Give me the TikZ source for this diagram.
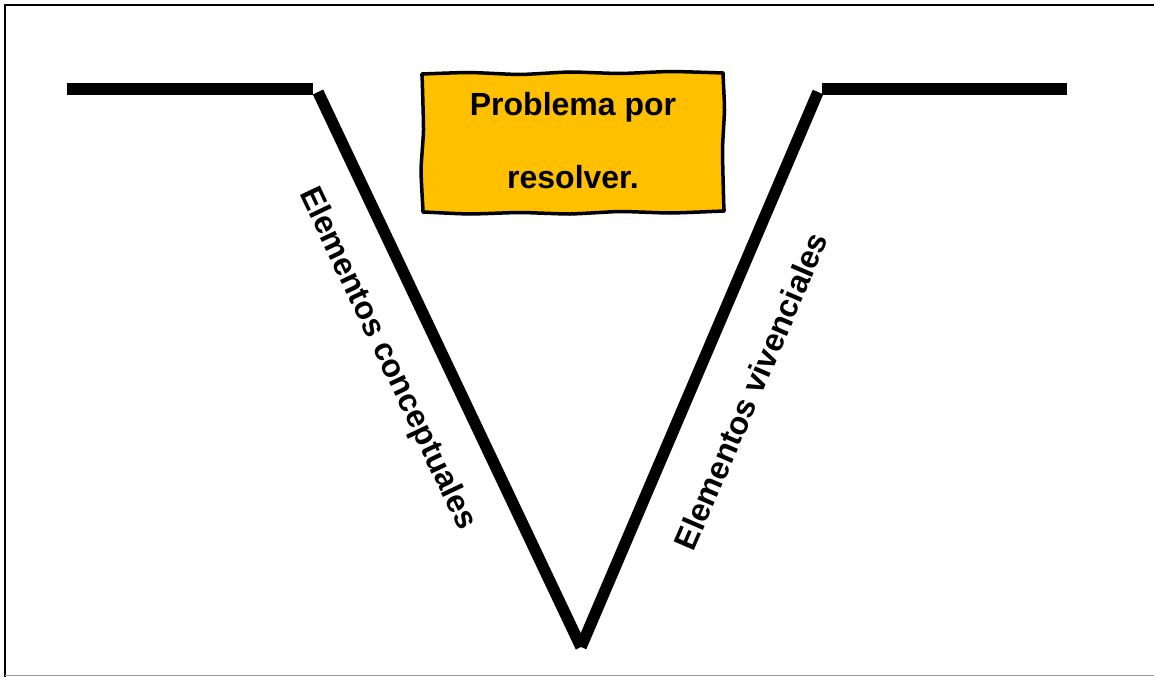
\documentclass[tikz,border=0pt]{standalone}
\usepackage{fontspec}
\setmainfont{Liberation Sans}
\definecolor{gold}{HTML}{FFC000}
\definecolor{framegray}{HTML}{9A9A9A}
\tikzset{
  vline/.style={line width=11.5pt, line cap=butt, black},
  lbl/.style={font=\fontsize{32}{38}\bfseries\selectfont, inner sep=0pt},
  wavybox/.style={fill=gold, draw=black, line width=3.5pt, line join=round}
}
\begin{document}
\begin{tikzpicture}[x=1pt, y=-1pt]
\useasboundingbox (0,0) rectangle (1154,677);
% frame
\draw[line width=2.5pt, black] (1154,5) -- (5,5) -- (5,677);
\draw[line width=1.5pt, framegray] (5,675.5) -- (1154,675.5);
% V shape
\coordinate (l1) at (67,89);
\coordinate (l2) at (313,89);
\coordinate (lt) at (318,92);
\coordinate (apex) at (581,647);
\coordinate (rt) at (818,92);
\coordinate (r1) at (822,89);
\coordinate (r2) at (1067,89);
\draw[vline] (l1) -- (l2);
\draw[vline] (lt) -- (apex);
\draw[vline] (apex) -- (rt);
\draw[vline] (r1) -- (r2);
% box
\draw[wavybox] plot[smooth cycle, tension=0.3] coordinates {
  (422,74) (427,73.8) (470,72.5) (520,74.5) (570,72) (620,73.5) (670,71.5) (718,72.8) (723,73)
  (723.2,78) (724.5,110) (722.5,150) (723.8,206) (724,211)
  (719,211.2) (670,213) (620,211.5) (570,214) (520,212.5) (470,214) (428,212.2) (423,212)
  (422.8,207) (421,170) (423.5,130) (422.2,79) };
\node[lbl, anchor=base] (p1) at (573,115) {Problema por};
\node[lbl, anchor=base] (p2) at (573,188) {resolver.};
% side labels
\node[lbl, rotate=-64.6] (lc) at (387,359) {Elementos conceptuales};
\node[lbl, rotate=66.7] (lv) at (751,391) {Elementos vivenciales};
\end{tikzpicture}
\end{document}
